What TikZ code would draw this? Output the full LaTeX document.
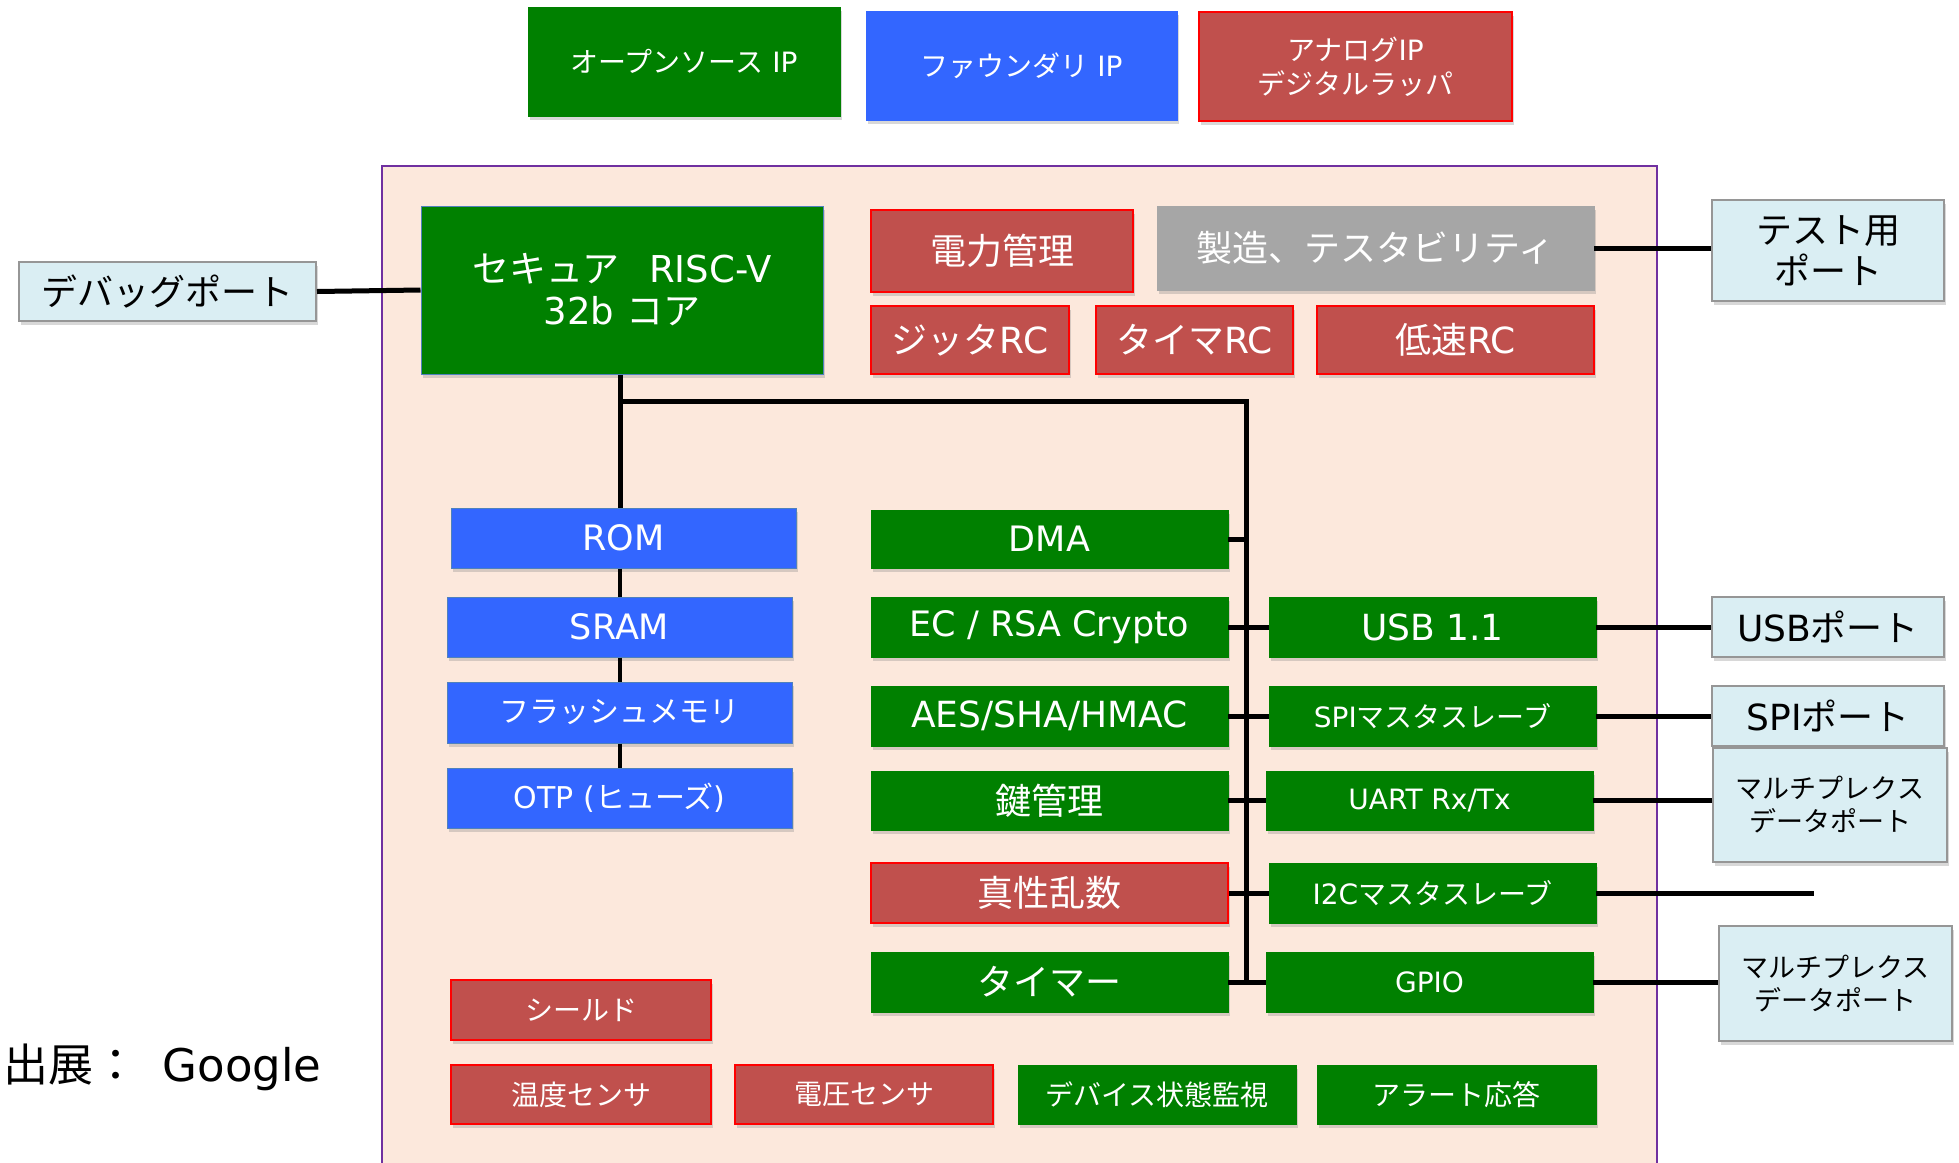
\documentclass[tikz,border=0pt]{standalone}
\usepackage{fontspec}
\setmainfont{DejaVu Sans}
\newfontfamily\jp{Noto Sans CJK JP}
\usetikzlibrary{shadows}
\definecolor{cgreen}{RGB}{0,128,0}
\definecolor{cblue}{RGB}{51,102,255}
\definecolor{cblueb}{RGB}{79,129,189}
\definecolor{cred}{RGB}{192,80,77}
\definecolor{cgray}{RGB}{166,166,166}
\definecolor{cport}{RGB}{218,238,243}
\definecolor{cportb}{RGB}{150,150,150}
\definecolor{cpeach}{RGB}{252,232,220}
\definecolor{cpurple}{RGB}{112,48,160}
\tikzset{
  sz/.style 2 args={minimum width=#1pt, minimum height=#2pt},
  fs/.style 2 args={font=\fontsize{#1}{#2}\selectfont},
  base/.style={inner sep=0pt, align=center, text=white,
    drop shadow={opacity=0.3, shadow xshift=2pt, shadow yshift=-4pt}},
  grn/.style={base, fill=cgreen, draw=cgreen},
  blu/.style={base, fill=cblue, draw=cblueb, line width=1pt},
  redb/.style={base, fill=cred, draw=red, line width=2pt},
  gry/.style={base, fill=cgray, draw=cgray},
  port/.style={base, fill=cport, draw=cportb, line width=2pt, text=black},
  conn/.style={line width=5pt, black},
}
\begin{document}
\begin{tikzpicture}[x=1pt, y=-1pt]
\useasboundingbox (0,0) rectangle (1959,1162);
\fill[white] (0,0) rectangle (1959,1162);
% chip area
\draw[fill=cpeach, draw=cpurple, line width=1.5pt] (382,166) rectangle (1657,1175);

% top legend
\node[grn, sz={312}{109}, fs={28}{34}] (open) at (684,61.5) {{\jp オープンソース} IP};
\node[blu, sz={311}{109}, fs={28}{34}, draw=cblue] (found) at (1021.5,65.5) {{\jp ファウンダリ} IP};
\node[redb, sz={313}{109}, fs={28}{34}] (analog) at (1355.5,66.5) {{\jp アナログ}IP\\{\jp デジタルラッパ}};

% core and top row
\node[grn, sz={402}{168}, fs={37}{42}, draw=cblueb, line width=1pt] (core) at (622,290) {{\jp セキュア}\hspace{0.8em}RISC-V\\32b {\jp コア}};
\node[port, sz={297}{59}, fs={36}{42}] (dbg) at (167.5,291.5) {\jp デバッグポート};
\node[redb, sz={262}{82}, fs={36}{42}] (power) at (1002,251) {\jp 電力管理};
\node[gry, sz={437}{84}, fs={36}{42}] (mfg) at (1375.5,248) {\jp 製造、テスタビリティ};
\node[port, sz={232}{101}, fs={36}{41}] (test) at (1828,250.5) {{\jp テスト用}\\{\jp ポート}};
\node[redb, sz={198}{68}, fs={36}{42}] (jit) at (970,340) {{\jp ジッタ}RC};
\node[redb, sz={197}{68}, fs={36}{42}] (trc) at (1194.5,340) {{\jp タイマ}RC};
\node[redb, sz={277}{68}, fs={36}{42}] (lrc) at (1455.5,340) {{\jp 低速}RC};

% memories
\node[blu, sz={345}{60}, fs={35}{40}] (rom) at (623.5,538) {ROM};
\node[blu, sz={345}{60}, fs={35}{40}] (sram) at (619.5,627) {SRAM};
\node[blu, sz={345}{61}, fs={30}{36}] (flash) at (619.5,712.5) {\jp フラッシュメモリ};
\node[blu, sz={345}{60}, fs={30}{36}] (otp) at (619.5,798) {OTP ({\jp ヒューズ})};

% middle column
\node[grn, sz={357}{58}, fs={35}{40}] (dma) at (1049.5,539) {DMA};
\node[grn, sz={357}{60}, fs={35}{40}] (ec) at (1049.5,627) {EC / RSA Crypto};
\node[grn, sz={357}{60}, fs={36}{40}] (aes) at (1049.5,716) {AES/SHA/HMAC};
\node[grn, sz={357}{59}, fs={36}{42}] (key) at (1049.5,800.5) {\jp 鍵管理};
\node[redb, sz={357}{60}, fs={36}{42}] (trng) at (1049.5,893) {\jp 真性乱数};
\node[grn, sz={357}{60}, fs={36}{42}] (timer) at (1049.5,982) {\jp タイマー};

% peripherals
\node[grn, sz={327}{60}, fs={36}{42}] (usb) at (1432.5,627) {USB 1.1};
\node[grn, sz={327}{60}, fs={28}{34}] (spi) at (1432.5,716) {SPI{\jp マスタスレーブ}};
\node[grn, sz={327}{59}, fs={28}{34}] (uart) at (1429.5,800.5) {UART Rx/Tx};
\node[grn, sz={327}{60}, fs={28}{34}] (i2c) at (1432.5,893) {I2C{\jp マスタスレーブ}};
\node[grn, sz={327}{60}, fs={28}{34}] (gpio) at (1429.5,982) {GPIO};

% ports
\node[port, sz={232}{60}, fs={36}{42}] (usbp) at (1828,627) {USB{\jp ポート}};
\node[port, sz={232}{60}, fs={36}{42}] (spip) at (1828,716) {SPI{\jp ポート}};
\node[port, sz={234}{114}, fs={27}{33}] (mux1) at (1830,805) {{\jp マルチプレクス}\\{\jp データポート}};
\node[port, sz={233}{115}, fs={27}{33}] (mux2) at (1835.5,983.5) {{\jp マルチプレクス}\\{\jp データポート}};
\coordinate (i2cend) at (1814,893);

% bottom row
\node[redb, sz={260}{60}, fs={28}{34}] (shield) at (581,1010) {\jp シールド};
\node[redb, sz={260}{59}, fs={28}{34}] (temp) at (581,1094.5) {\jp 温度センサ};
\node[redb, sz={258}{59}, fs={28}{34}] (volt) at (864,1094.5) {\jp 電圧センサ};
\node[grn, sz={278}{59}, fs={28}{34}] (devmon) at (1157,1094.5) {\jp デバイス状態監視};
\node[grn, sz={279}{59}, fs={28}{34}] (alert) at (1456.5,1094.5) {\jp アラート応答};

\node[anchor=west, inner sep=0pt, fs={45}{50}] (credit) at (3,1067) {{\jp 出展：}\hspace{0.55em}Google};

% connectors
\coordinate (busTL) at (620,401);
\coordinate (busTR) at (1246,401);
\coordinate (busB) at (1246,980);
\draw[conn] (dbg.east) -- (core.west);
\draw[conn] (mfg.east) -- (mfg.east -| test.west);
\draw[conn] (core.south -| busTL) -- (rom.north -| busTL);
\draw[line width=4.5pt] (rom.south -| busTL) -- (sram.north -| busTL);
\draw[line width=4.5pt] (sram.south -| busTL) -- (flash.north -| busTL);
\draw[line width=4.5pt] (flash.south -| busTL) -- (otp.north -| busTL);
\draw[conn] (busTL) -- (busTR) -- (busB);
\draw[conn] (dma.east) -- (dma.east -| busTR);
\draw[conn] (ec.east) -- (usb.west);
\draw[conn] (aes.east) -- (spi.west);
\draw[conn] (key.east) -- (uart.west);
\draw[conn] (trng.east) -- (i2c.west);
\draw[conn] (timer.east) -- (gpio.west);
\draw[conn] (usb.east) -- (usbp.west);
\draw[conn] (spi.east) -- (spip.west);
\draw[conn] (uart.east) -- (uart.east -| mux1.west);
\draw[conn] (i2c.east) -- (i2cend);
\draw[conn] (gpio.east) -- (gpio.east -| mux2.west);
\end{tikzpicture}
\end{document}
